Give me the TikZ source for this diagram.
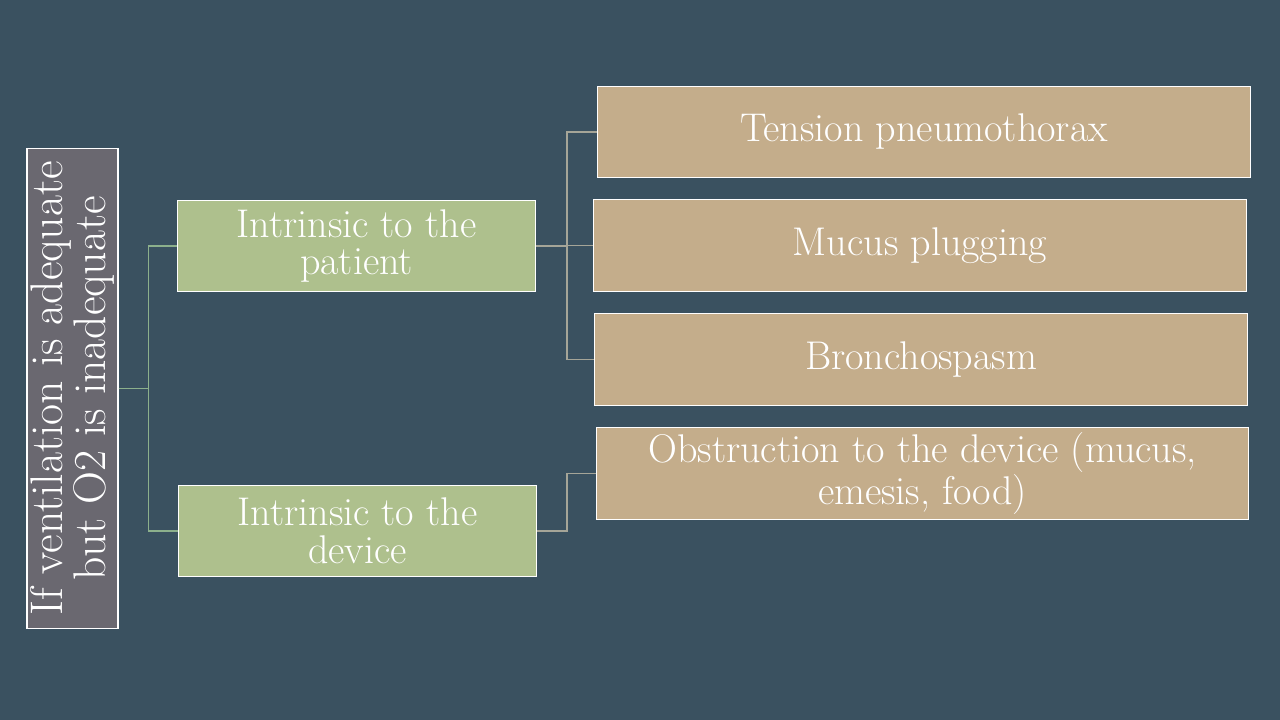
\documentclass[tikz,border=0pt]{standalone}
\usetikzlibrary{positioning}
\definecolor{slate}{RGB}{58,81,96}
\definecolor{rootgray}{RGB}{106,104,112}
\definecolor{sage}{RGB}{174,192,141}
\definecolor{tan}{RGB}{196,173,139}
\definecolor{linkgreen}{RGB}{140,176,140}
\definecolor{linkgray}{RGB}{165,165,152}
\begin{document}
\begin{tikzpicture}
[   x=0.025cm, y=-0.025cm,
    box/.style={draw=white, line width=0.8pt, text=white, align=center, inner sep=0pt,
                font=\fontsize{28.5}{27}\selectfont},
    rootbox/.style={box, fill=rootgray, rotate=90, minimum width=11.975cm, minimum height=2.275cm,
                font=\fontsize{32.5}{26.5}\selectfont},
    midbox/.style={box, fill=sage, minimum width=8.95cm, minimum height=2.27cm},
    leafbox/.style={box, fill=tan, minimum width=16.3cm, minimum height=2.28cm},
    link/.style={line width=1.1pt},
]
    \fill[slate] (0,0) rectangle (1280,720);
    \useasboundingbox (0,0) rectangle (1280,720);

    \node[rootbox] (root) at (72.5,388.5) {If ventilation is adequate\\but O2 is inadequate};

    \node[midbox] (patient) at (356.5,246) {Intrinsic to the\\patient};
    \node[midbox] (device) at (357.5,531) {Intrinsic to the\\device};

    \node[leafbox] (tension) at (924,132) {Tension pneumothorax};
    \node[leafbox] (mucus) at (920,245.5) {Mucus plugging};
    \node[leafbox] (broncho) at (921,359.5) {Bronchospasm};
    \node[leafbox] (obstr) at (922.5,473.5) {Obstruction to the device (mucus,\\emesis, food)};

    % root to the two groups
    \foreach \y in {patient,device}
    {   \draw[link, linkgreen] (root.south) -- ++(30,0) |- (\y.west);
    }

    % patient causes
    \foreach \y in {tension,mucus,broncho}
    {   \draw[link, linkgray] (patient.east) -- ++(31,0) |- (\y.west);
    }

    % device causes
    \draw[link, linkgray] (device.east) -- ++(30,0) |- (obstr.west);

\end{tikzpicture}
\end{document}
